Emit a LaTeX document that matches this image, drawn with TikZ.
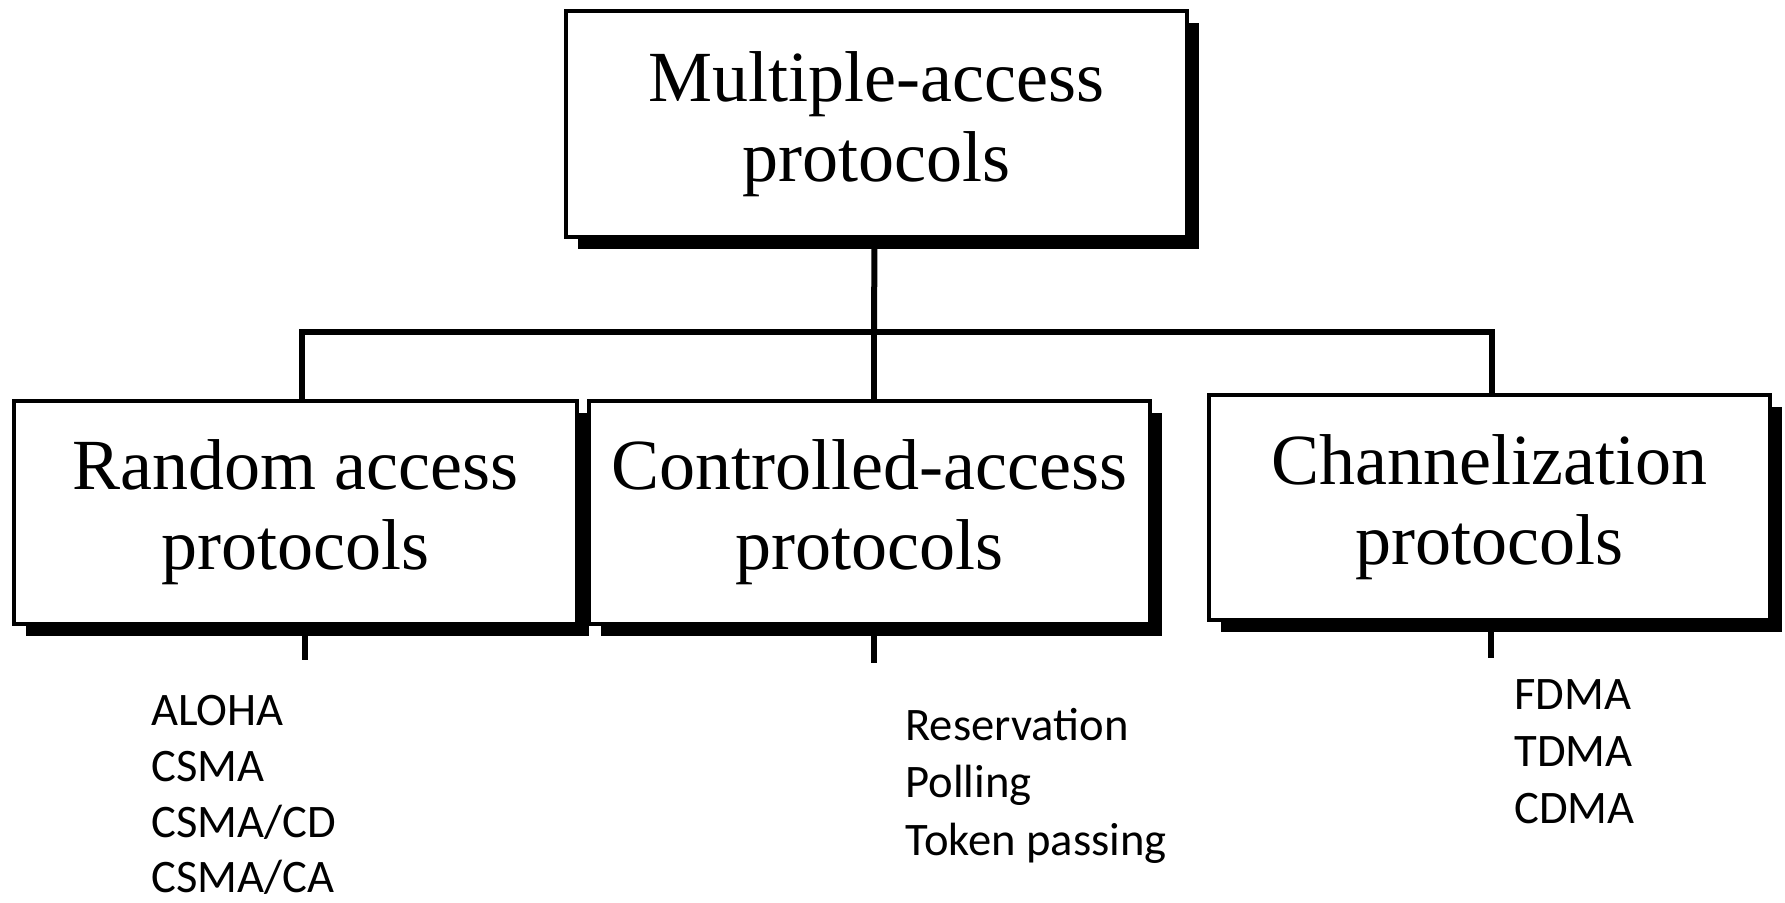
\documentclass[tikz,border=0pt]{standalone}
\usepackage{fontspec}
\setmainfont{Liberation Serif}
\newfontfamily\listfont{Carlito}
\usetikzlibrary{shadows}
\begin{document}
\begin{tikzpicture}[x=0.5pt,y=-0.5pt,
  pbox/.style={draw=black,line width=2.3pt,fill=white,inner sep=0pt,align=center,
    font=\fontsize{36}{40}\selectfont,
    drop shadow={shadow xshift=6pt,shadow yshift=-6pt,fill=black,opacity=1}},
  conn/.style={line width=3pt},
  item/.style={anchor=base west,inner sep=0pt,font=\listfont\fontsize{23.3}{28}\selectfont}]
\useasboundingbox (0,0) rectangle (1785,902);
% boxes
\node[pbox,minimum width=310.5pt,minimum height=113pt] (top) at (876.5,124) {Multiple-access\\protocols};
\node[pbox,minimum width=281.5pt,minimum height=111.5pt] (rand) at (295.5,512.5) {Random access\\protocols};
\node[pbox,minimum width=280.5pt,minimum height=111.5pt] (ctrl) at (869.5,512.5) {Controlled-access\\protocols};
\node[pbox,minimum width=280.5pt,minimum height=112.5pt] (chan) at (1489.5,507.5) {Channelization\\protocols};
% tree connectors
\coordinate (j) at (874,332);
\draw[conn] ([xshift=-1pt]top.south) -- (j);
\draw[conn] ([xshift=3.25pt]rand.north) -- ([xshift=3.25pt]rand.north |- j) -- ([xshift=1pt]chan.north |- j) -- ([xshift=1pt]chan.north);
\draw[conn] (j) -- (j |- ctrl.north);
% stubs below boxes
\coordinate (ra) at (305,660);
\coordinate (ca) at (874,663);
\coordinate (ch) at (1491,658);
\draw[conn] (ra |- rand.south) -- (ra);
\draw[conn] (ca |- ctrl.south) -- (ca);
\draw[conn] (ch |- chan.south) -- (ch);
% lists
\node[item] (l1) at (151,725) {ALOHA};
\node[item] (l2) at (151,781) {CSMA};
\node[item] (l3) at (151,837) {CSMA/CD};
\node[item] (l4) at (151,892) {CSMA/CA};
\node[item] (m1) at (905,740) {Reservation};
\node[item] (m2) at (905,797) {Polling};
\node[item] (m3) at (905,855) {Token passing};
\node[item] (r1) at (1514,709) {FDMA};
\node[item] (r2) at (1514,766) {TDMA};
\node[item] (r3) at (1514,823) {CDMA};
\end{tikzpicture}
\end{document}
